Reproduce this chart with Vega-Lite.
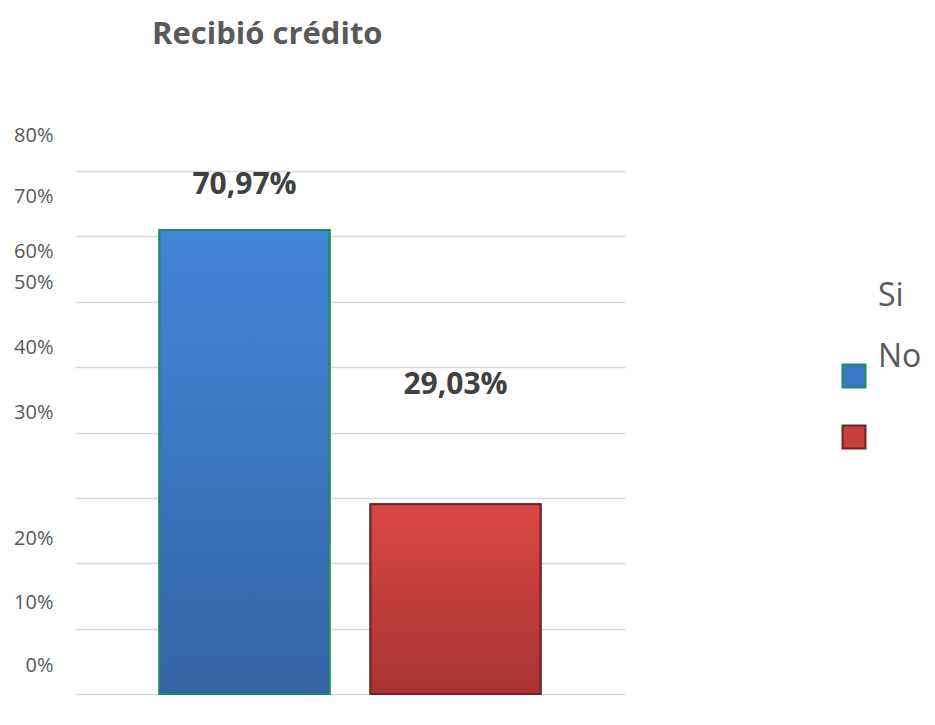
{
  "$schema": "https://vega.github.io/schema/vega-lite/v6.json",
  "description": "Recibió crédito: Si / No",
  "autosize": "none",
  "width": 550,
  "height": 523,
  "padding": {"left": 75, "top": 171, "right": 310, "bottom": 31},
  "title": {
    "text": "Recibió crédito",
    "anchor": "start",
    "frame": "group",
    "dx": 77,
    "offset": 50,
    "baseline": "alphabetic",
    "font": "Open Sans",
    "fontSize": 31,
    "fontWeight": "bold",
    "color": "#595959"
  },
  "data": {
    "values": [
      {"respuesta": "Si", "porcentaje": 0.7097},
      {"respuesta": "No", "porcentaje": 0.2903}
    ]
  },
  "encoding": {
    "x": {
      "field": "respuesta",
      "type": "nominal",
      "sort": ["Si", "No"],
      "axis": null,
      "scale": {"paddingInner": 0.194, "paddingOuter": 0.4}
    },
    "y": {
      "field": "porcentaje",
      "type": "quantitative",
      "title": null,
      "scale": {"domain": [0, 0.8], "nice": false},
      "axis": {
        "values": [0, 0.1, 0.2, 0.3, 0.4, 0.5, 0.6, 0.7, 0.8],
        "format": ".0%",
        "domain": false,
        "ticks": false,
        "grid": true,
        "gridColor": "#d9d9d9",
        "gridWidth": 1.5,
        "labelFont": "Open Sans",
        "labelFontSize": 20,
        "labelColor": "#595959",
        "labelPadding": 22,
        "labelBaseline": "middle",
        "labelOverlap": false,
        "labelFlush": false,
        "labelOffset": {
          "condition": [
            {"test": "datum.value > 0.75", "value": -36},
            {"test": "datum.value > 0.65", "value": -40},
            {"test": "datum.value > 0.55", "value": -50},
            {"test": "datum.value > 0.25", "value": -85},
            {"test": "datum.value > 0.15", "value": -25},
            {"test": "datum.value > 0.05", "value": -26}
          ],
          "value": -29
        }
      }
    }
  },
  "layer": [
    {
      "mark": {"type": "bar", "strokeWidth": 2},
      "encoding": {
        "color": {
          "field": "respuesta",
          "type": "nominal",
          "sort": ["Si", "No"],
          "scale": {"domain": ["Si", "No"], "range": ["#3d78c6", "#c8403d"]},
          "legend": {
            "title": null,
            "orient": "none",
            "legendX": 763,
            "legendY": 189,
            "padding": 0,
            "symbolType": "square",
            "symbolSize": 529,
            "symbolStrokeWidth": 2,
            "symbolOpacity": 1,
            "labelFont": "Open Sans",
            "labelFontSize": 32,
            "labelColor": "#595959",
            "labelOffset": 8,
            "rowPadding": -51,
            "encode": {"labels": {"update": {"dy": {"value": -80}}}}
          }
        },
        "stroke": {
          "field": "respuesta",
          "type": "nominal",
          "sort": ["Si", "No"],
          "scale": {"domain": ["Si", "No"], "range": ["#1e8b58", "#6e2523"]},
          "legend": null
        }
      }
    },
    {
      "mark": {"type": "bar", "strokeWidth": 2},
      "encoding": {
        "color": {
          "condition": {
            "test": "datum.respuesta === 'Si'",
            "value": {
              "gradient": "linear", "x1": 0, "y1": 0, "x2": 0, "y2": 1,
              "stops": [
                {"offset": 0, "color": "#4385d8"},
                {"offset": 1, "color": "#3564a6"}
              ]
            }
          },
          "value": {
            "gradient": "linear", "x1": 0, "y1": 0, "x2": 0, "y2": 1,
            "stops": [
              {"offset": 0, "color": "#db4744"},
              {"offset": 1, "color": "#a63432"}
            ]
          }
        },
        "stroke": {
          "condition": {"test": "datum.respuesta === 'Si'", "value": "#1e8b58"},
          "value": "#6e2523"
        }
      }
    },
    {
      "transform": [{"filter": "datum.respuesta === 'Si'"}],
      "mark": {
        "type": "text",
        "baseline": "middle",
        "dy": -45,
        "font": "Open Sans",
        "fontSize": 30,
        "fontWeight": "bold",
        "color": "#404040"
      },
      "encoding": {
        "text": {"field": "porcentaje", "type": "quantitative", "format": ".2%"}
      }
    },
    {
      "transform": [{"filter": "datum.respuesta === 'No'"}],
      "mark": {
        "type": "text",
        "baseline": "middle",
        "dy": -119,
        "font": "Open Sans",
        "fontSize": 30,
        "fontWeight": "bold",
        "color": "#404040"
      },
      "encoding": {
        "text": {"field": "porcentaje", "type": "quantitative", "format": ".2%"}
      }
    }
  ],
  "config": {
    "font": "Open Sans",
    "view": {"stroke": null},
    "locale": {
      "number": {
        "decimal": ",",
        "thousands": ".",
        "grouping": [3],
        "currency": ["", " €"]
      }
    }
  }
}
